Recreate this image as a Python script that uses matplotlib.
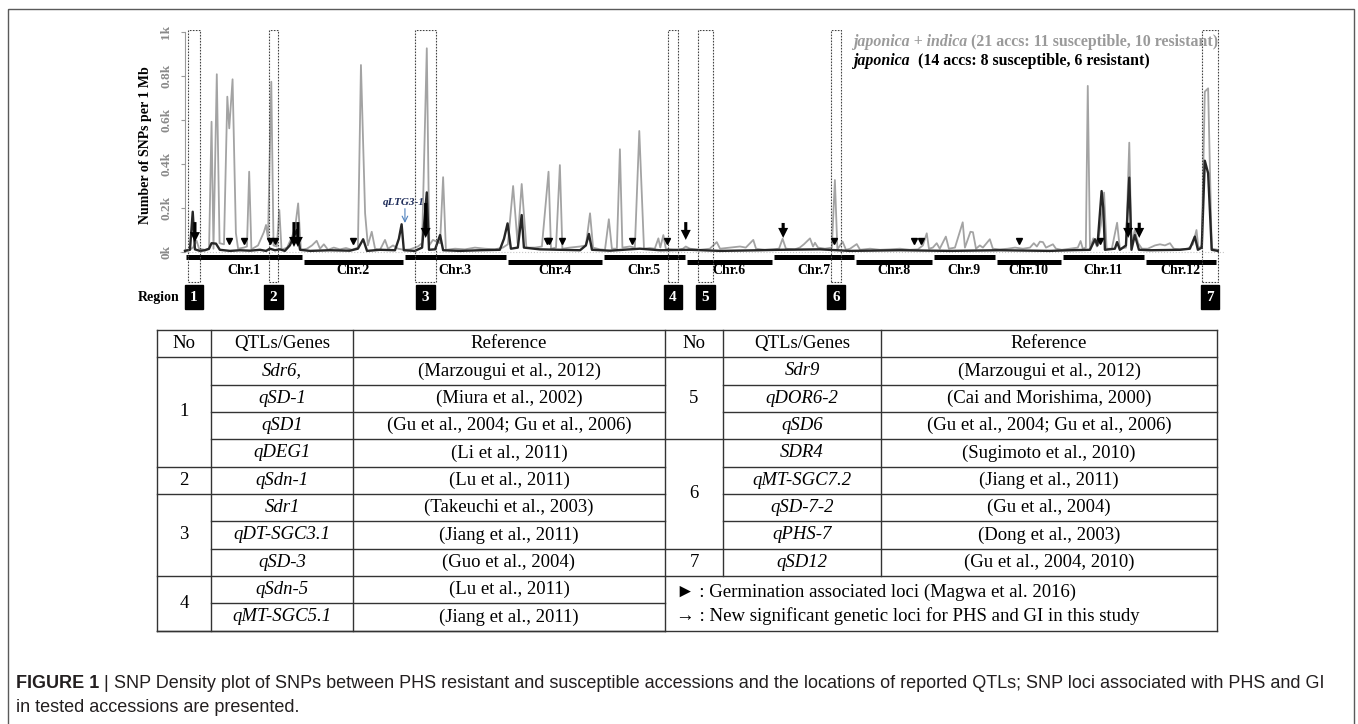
import matplotlib.pyplot as plt
from matplotlib.patches import Rectangle

# chromosomes (Mb, laid end to end)
chr_names = ['Chr.1', 'Chr.2', 'Chr.3', 'Chr.4', 'Chr.5', 'Chr.6',
             'Chr.7', 'Chr.8', 'Chr.9', 'Chr.10', 'Chr.11', 'Chr.12']
chr_len = [42.6, 36.5, 37.3, 34.7, 29.9, 31.5, 29.6, 28.2, 22.8, 23.8, 30.0, 26.1]

# japonica + indica: genome position (Mb) and SNPs per 1 Mb
all_pos = [0.0, 1.8, 2.9, 4.2, 5.1, 7.2, 8.7, 9.6, 10.3, 11.5,
           12.5, 14.1, 15.3, 16.0, 17.2, 18.4, 19.2, 21.3, 22.4, 23.2,
           24.0, 26.4, 28.5, 29.3, 30.0, 31.2, 32.0, 33.2, 34.1, 34.9,
           36.9, 38.7, 39.8, 40.9, 41.9, 44.1, 45.9, 47.6, 48.8, 50.2,
           51.7, 53.8, 56.0, 58.2, 60.4, 62.5, 63.6, 65.1, 66.1, 67.5,
           68.7, 70.5, 72.3, 73.4, 75.2, 77.0, 79.1, 81.3, 84.2, 85.7,
           87.4, 88.3, 89.6, 92.2, 93.3, 94.3, 97.6, 101.2, 104.8, 108.4,
           112.0, 114.9, 116.7, 118.6, 120.2, 121.7, 122.6, 123.4, 126.5, 129.0,
           131.4, 132.3, 134.1, 135.5, 136.4, 139.1, 142.8, 144.9, 146.4, 147.5,
           150.0, 151.8, 153.2, 154.3, 156.1, 157.2, 158.1, 160.8, 162.6, 164.2,
           165.0, 165.9, 168.0, 169.8, 171.1, 171.8, 172.9, 173.8, 176.0, 178.2,
           180.0, 181.0, 182.5, 186.1, 189.7, 192.2, 193.4, 197.0, 200.6, 202.7,
           205.4, 206.4, 209.6, 212.5, 214.7, 216.0, 217.2, 220.4, 222.2, 223.7,
           225.9, 227.0, 227.7, 228.8, 231.3, 233.8, 234.9, 235.8, 237.7, 238.9,
           240.4, 242.8, 244.0, 247.6, 251.2, 254.8, 258.4, 262.0, 264.9, 266.7,
           268.1, 268.9, 270.3, 271.7, 272.8, 275.0, 276.1, 278.3, 281.1, 281.9,
           283.9, 284.8, 285.9, 287.3, 288.4, 290.9, 292.0, 294.5, 297.4, 300.0,
           302.9, 305.4, 306.8, 307.9, 309.0, 310.1, 311.2, 313.7, 314.8, 316.9,
           319.8, 322.7, 323.7, 324.5, 325.6, 326.3, 327.1, 328.3, 329.6, 331.0,
           332.2, 333.1, 335.0, 336.9, 337.9, 340.1, 341.3, 342.1, 343.3, 344.5,
           345.9, 348.0, 350.6, 352.4, 354.2, 356.0, 357.4, 359.6, 362.5, 364.3,
           365.6, 366.3, 367.5, 368.6, 369.8, 371.1, 373.3]
all_snp = [8, 12, 20, 51, 15, 10, 12, 592, 15, 808,
           40, 35, 706, 562, 785, 86, 15, 20, 25, 365,
           12, 30, 90, 123, 60, 774, 30, 25, 191, 10,
           20, 70, 110, 221, 10, 15, 30, 51, 15, 35,
           10, 20, 12, 18, 10, 20, 850, 176, 30, 92,
           15, 10, 55, 15, 30, 15, 10, 12, 25, 40,
           926, 30, 55, 40, 340, 10, 15, 12, 20, 15,
           12, 20, 35, 300, 40, 309, 155, 20, 20, 25,
           365, 15, 20, 395, 15, 20, 25, 30, 176, 20,
           12, 10, 149, 15, 15, 467, 20, 25, 20, 550,
           297, 15, 18, 15, 62, 20, 77, 15, 12, 10,
           15, 25, 15, 10, 15, 45, 15, 20, 25, 20,
           55, 15, 10, 12, 15, 60, 15, 12, 20, 35,
           62, 25, 42, 20, 15, 20, 327, 12, 47, 10,
           15, 36, 10, 15, 10, 12, 15, 10, 12, 30,
           85, 15, 20, 40, 15, 70, 15, 20, 135, 20,
           92, 90, 15, 30, 20, 58, 15, 12, 15, 20,
           15, 20, 40, 25, 47, 45, 20, 35, 15, 10,
           15, 20, 50, 15, 20, 755, 15, 62, 25, 120,
           270, 15, 15, 133, 15, 20, 497, 30, 100, 40,
           15, 15, 30, 35, 30, 40, 15, 12, 15, 35,
           100, 15, 30, 729, 744, 15, 10]

# japonica only
jap_pos = [0.0, 1.8, 2.8, 3.6, 5.4, 7.2, 8.7, 9.6, 11.2, 12.6,
           16.3, 19.9, 23.5, 27.1, 29.3, 30.7, 32.5, 34.3, 36.1, 37.9,
           40.4, 41.6, 45.2, 52.4, 59.6, 62.5, 64.4, 65.8, 70.5, 75.9,
           77.3, 78.3, 79.1, 83.1, 85.7, 87.4, 88.2, 90.4, 92.2, 93.3,
           99.4, 106.6, 113.8, 115.3, 116.6, 117.8, 120.3, 121.7, 122.5, 128.3,
           135.5, 142.8, 144.9, 146.0, 147.1, 153.6, 160.8, 164.4, 171.7, 182.5,
           193.4, 207.8, 215.0, 229.5, 240.3, 258.4, 276.5, 294.5, 312.6, 319.8,
           327.1, 328.9, 329.8, 331.3, 331.9, 332.5, 336.1, 336.9, 337.9, 340.1,
           341.3, 342.1, 343.3, 344.8, 348.8, 359.6, 363.2, 365.0, 366.1, 367.5,
           368.6, 369.8, 371.1, 373.3]
jap_snp = [5, 10, 183, 12, 5, 8, 15, 40, 38, 10,
           5, 8, 6, 10, 5, 15, 8, 12, 5, 30,
           100, 10, 5, 8, 6, 15, 58, 5, 10, 8,
           60, 126, 8, 5, 20, 271, 10, 12, 77, 8,
           5, 8, 10, 60, 130, 15, 20, 168, 20, 12,
           10, 8, 30, 82, 10, 6, 12, 15, 8, 10,
           5, 8, 10, 12, 5, 8, 5, 8, 5, 8,
           10, 58, 30, 277, 200, 10, 15, 45, 10, 30,
           338, 10, 77, 10, 8, 10, 15, 70, 10, 20,
           415, 358, 10, 5]

# QTL regions (Mb)
region_start = [1.1, 30.4, 83.1, 174.6, 185.4, 233.5, 367.5]
region_end = [5.4, 33.6, 90.7, 178.2, 190.8, 237.1, 373.3]

# new loci (arrows) and germination loci (triangles)
new_pos = [3.6, 39.4, 40.8, 87.0, 181.0, 216.2, 340.9, 344.9]
new_top = [136, 136, 136, 223, 136, 132, 133, 133]
new_tip = [45, 23, 23, 64, 55, 64, 64, 64]
germ_pos = [16.0, 21.4, 30.7, 32.5, 60.8, 130.7, 131.7, 136.2, 161.4, 174.1,
            234.7, 263.5, 266.2, 301.5, 330.7]

yticks = [0, 200, 400, 600, 800, 1000]
ytick_labels = ['0k', '0.2k', '0.4k', '0.6k', '0.8k', '1k']

# table
left_no = ['1', '2', '3', '4']
left_span = [4, 1, 3, 2]
left_genes = ['Sdr6,', 'qSD-1', 'qSD1', 'qDEG1', 'qSdn-1', 'Sdr1', 'qDT-SGC3.1',
              'qSD-3', 'qSdn-5', 'qMT-SGC5.1']
left_refs = ['(Marzougui et al., 2012)', '(Miura et al., 2002)',
             '(Gu et al., 2004; Gu et al., 2006)', '(Li et al., 2011)',
             '(Lu et al., 2011)', '(Takeuchi et al., 2003)', '(Jiang et al., 2011)',
             '(Guo et al., 2004)', '(Lu et al., 2011)', '(Jiang et al., 2011)']
right_no = ['5', '6', '7']
right_span = [3, 4, 1]
right_genes = ['Sdr9', 'qDOR6-2', 'qSD6', 'SDR4', 'qMT-SGC7.2', 'qSD-7-2',
               'qPHS-7', 'qSD12']
right_refs = ['(Marzougui et al., 2012)', '(Cai and Morishima, 2000)',
              '(Gu et al., 2004; Gu et al., 2006)', '(Sugimoto et al., 2010)',
              '(Jiang et al., 2011)', '(Gu et al., 2004)', '(Dong et al., 2003)',
              '(Gu et al., 2004, 2010)']
notes = ['\u25ba : Germination associated loci (Magwa et al. 2016)',
         '\u2192 : New significant genetic loci for PHS and GI in this study']

SERIF = ['Liberation Serif', 'DejaVu Serif']

fig = plt.figure(figsize=(13.58, 7.24), dpi=100)

# ---- chart
ax = fig.add_axes([180 / 1358, 1 - 315.8 / 724, 1045 / 1358, 286 / 724])
ax.set_xlim(-1.8, 375.9)
ax.set_ylim(-290, 1010)
ax.patch.set_alpha(0)
for s in ['top', 'right', 'bottom']:
    ax.spines[s].set_visible(False)
ax.spines['left'].set_position(('data', 0))
ax.spines['left'].set_bounds(0, 1000)
ax.spines['left'].set_color('#999999')
ax.set_xticks([])
ax.set_yticks(yticks)
ax.set_yticklabels(ytick_labels, rotation=90, va='center', fontsize=9.5,
                   fontweight='bold', family=SERIF, color='#8a8a8a')
ax.tick_params(axis='y', length=3, color='#999999', pad=6)

ax.axhline(0, color='#c8c8c8', ls=':', lw=0.8, zorder=1)
ax.plot(all_pos, all_snp, color='#a3a3a3', lw=1.3, zorder=2)
ax.plot(jap_pos, jap_snp, color='#262626', lw=1.7, zorder=3)

start = 0
for i, (name, L) in enumerate(zip(chr_names, chr_len)):
    yb = -23 if i % 2 == 0 else -45
    ax.plot([start + 0.4, start + L - 0.4], [yb, yb], color='black', lw=3.6,
            solid_capstyle='butt')
    ax.text(start + L / 2, -82, name, ha='center', va='center', fontsize=10,
            fontweight='bold', family=SERIF)
    start += L

for i, (s, e) in enumerate(zip(region_start, region_end)):
    ax.add_patch(Rectangle((s, -136), e - s, 1145, fill=False, ec='#444444',
                           lw=0.8, ls=(0, (1.5, 1.2)), zorder=4))
    ax.text((s + e) / 2, -205, str(i + 1), ha='center', va='center', color='white',
            fontsize=11, fontweight='bold', family=SERIF,
            bbox=dict(boxstyle='square,pad=0.35', fc='black', ec='black'))

for p, t, h in zip(new_pos, new_top, new_tip):
    ax.annotate('', xy=(p, h), xytext=(p, t),
                arrowprops=dict(arrowstyle='simple,head_width=0.9,head_length=0.9,tail_width=0.28',
                                fc='black', ec='black', lw=0, shrinkA=0, shrinkB=0,
                                mutation_scale=8), zorder=5)
ax.plot(germ_pos, [50] * len(germ_pos), ls='none', marker='v', ms=5, color='black',
        zorder=5)

ax.text(79.1, 227, 'qLTG3-1', ha='center', va='center', fontsize=8, style='italic',
        fontweight='bold', family=SERIF, color='#1f2d5a')
ax.annotate('', xy=(79.5, 132), xytext=(79.5, 197),
            arrowprops=dict(arrowstyle='->', color='#4f81bd', lw=0.8,
                            shrinkA=0, shrinkB=0))

# ---- overlay in pixel coordinates
top = fig.add_axes([0, 0, 1, 1])
top.set_xlim(0, 1358)
top.set_ylim(724, 0)
top.axis('off')
top.add_patch(Rectangle((8, 9), 1346, 740, fill=False, ec='#5a5a5a', lw=1,
                        clip_on=False))

top.text(145, 145, 'Number of SNPs per 1 Mb', rotation=90, ha='center', va='center',
         fontsize=10, fontweight='bold', family=SERIF)
top.text(180, 297, 'Region', ha='right', va='center', fontsize=10,
         fontweight='bold', family=SERIF)

renderer = fig.canvas.get_renderer()


def put_parts(x, y, parts, size, family):
    for s, color, style, w in parts:
        t = top.text(x, y, s, ha='left', va='center', fontsize=size, color=color,
                     style=style, fontweight=w, family=family)
        x += t.get_window_extent(renderer=renderer).width


put_parts(853, 42, [('japonica + indica', '#9a9a9a', 'italic', 'bold'),
                    (' (21 accs: 11 susceptible, 10 resistant)', '#9a9a9a', 'normal', 'bold')],
          11.4, SERIF)
put_parts(853, 61, [('japonica', 'black', 'italic', 'bold'),
                    ('  (14 accs: 8 susceptible, 6 resistant)', 'black', 'normal', 'bold')],
          11.4, SERIF)

# ---- table
t_top, row_h = 330.0, 27.33
lx = [157, 211, 353, 665]
rx = [665, 723, 881, 1217]
t_bot = t_top + row_h * 11
lc = '#333333'
kw = dict(color=lc, lw=1)
top.plot([lx[0], rx[3]], [t_top, t_top], **kw)
top.plot([lx[0], rx[3]], [t_top + row_h, t_top + row_h], **kw)
top.plot([lx[0], rx[3]], [t_bot, t_bot], **kw)
for x in lx:
    top.plot([x, x], [t_top, t_bot], **kw)
top.plot([rx[3], rx[3]], [t_top, t_bot], **kw)
for x in rx[1:3]:
    top.plot([x, x], [t_top, t_top + row_h * 9], **kw)

fs = 13.5
for cx, txt in zip([(lx[0] + lx[1]) / 2, (lx[1] + lx[2]) / 2, (lx[2] + lx[3]) / 2,
                    (rx[0] + rx[1]) / 2, (rx[1] + rx[2]) / 2, (rx[2] + rx[3]) / 2],
                   ['No', 'QTLs/Genes', 'Reference'] * 2):
    top.text(cx, t_top + row_h / 2, txt, ha='center', va='center', fontsize=fs,
             family=SERIF)


def draw_side(x, nos, spans, genes, refs):
    r0 = t_top + row_h
    k = 0
    for no, sp in zip(nos, spans):
        top.text((x[0] + x[1]) / 2, r0 + row_h * (k + sp / 2), no, ha='center',
                 va='center', fontsize=fs, family=SERIF)
        for j in range(sp):
            yb = r0 + row_h * (k + j + 1)
            x0 = x[0] if j == sp - 1 else x[1]
            top.plot([x0, x[3]], [yb, yb], **kw)
        k += sp
    for i, (g, r) in enumerate(zip(genes, refs)):
        yc = r0 + row_h * (i + 0.5)
        top.text((x[1] + x[2]) / 2, yc, g, ha='center', va='center', fontsize=fs,
                 style='italic', family=SERIF)
        top.text((x[2] + x[3]) / 2, yc, r, ha='center', va='center', fontsize=fs,
                 family=SERIF)


draw_side(lx, left_no, left_span, left_genes, left_refs)
draw_side(rx, right_no, right_span, right_genes, right_refs)
for i, n in enumerate(notes):
    top.text(676, [592, 616][i], n, ha='left', va='center', fontsize=fs, family=SERIF)

# ---- caption
cap = 'SNP Density plot of SNPs between PHS resistant and susceptible accessions and the locations of reported QTLs; SNP loci associated with PHS and GI'
put_parts(16, 683, [('FIGURE 1', '#231f20', 'normal', 'bold'),
                    (' | ', '#231f20', 'normal', 'normal'),
                    (cap, '#231f20', 'normal', 'normal')],
          13, 'Liberation Sans')
top.text(16, 707, 'in tested accessions are presented.', ha='left', va='center',
         fontsize=13, color='#231f20', family='Liberation Sans')

fig.savefig('out.png', dpi=100)
